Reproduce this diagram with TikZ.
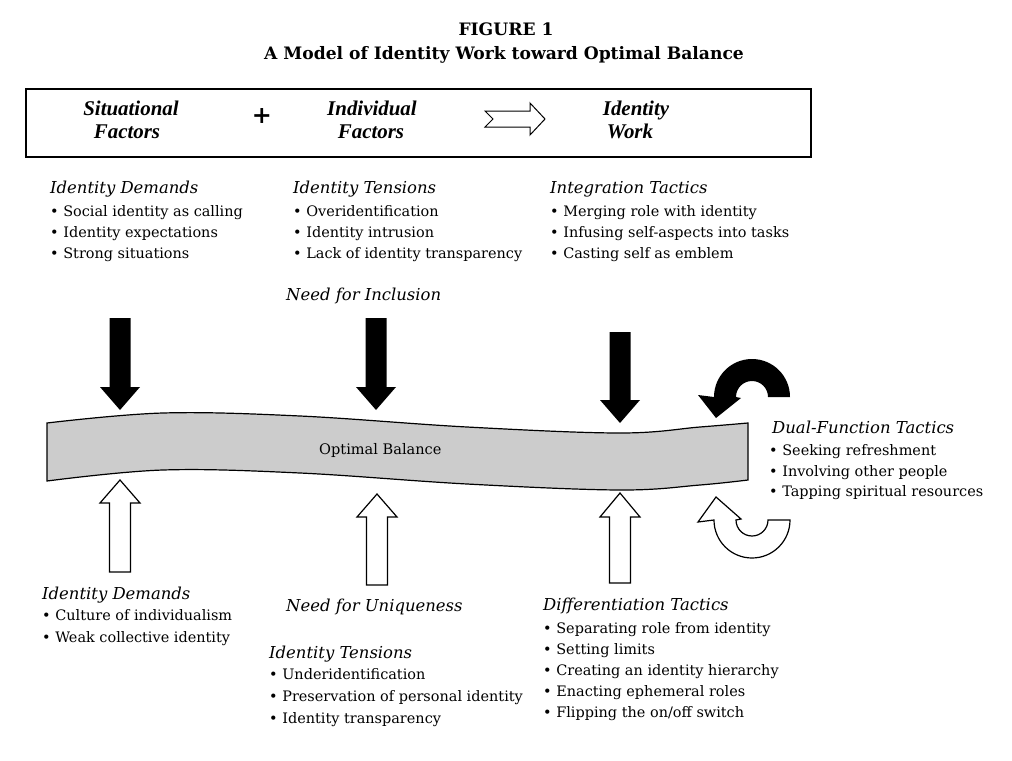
\documentclass[tikz,border=0pt]{standalone}
\usepackage{fontspec}
\setmainfont{DejaVu Serif}
\newfontfamily\hdrfont{Liberation Serif}
\newcommand\BlkDown[4]{\fill[black] (#1-10.5,#2) -- (#1+10.5,#2) -- (#1+10.5,#3) -- (#1+20,#3) -- (#1,#4) -- (#1-20,#3) -- (#1-10.5,#3) -- cycle;}
\newcommand\WhtUp[4]{\draw[uparr] (#1-10.5,#2) -- (#1+10.5,#2) -- (#1+10.5,#3) -- (#1+20,#3) -- (#1,#4) -- (#1-20,#3) -- (#1-10.5,#3) -- cycle;}
\begin{document}
\begin{tikzpicture}[x=1bp,y=-1bp,
  lbl/.style={anchor=base west, inner sep=0pt, font=\fontsize{14.5}{18}\selectfont},
  hd/.style={anchor=base west, inner sep=0pt, font=\fontsize{16.5}{18}\selectfont\itshape},
  hdr/.style={anchor=base, inner sep=0pt, font=\hdrfont\fontsize{21}{24}\selectfont\bfseries\itshape},
  ttl/.style={anchor=base, inner sep=0pt, font=\fontsize{17.2}{20}\selectfont\bfseries},
  uparr/.style={draw=black, fill=white, line width=1.2bp, line join=miter},
  band/.style={draw=black, fill=black!20, line width=1.2bp}]
\useasboundingbox[fill=white] (0,0) rectangle (1012,761);

% title
\node[ttl] (fig) at (506,36) {FIGURE 1};
\node[ttl] (title) at (504,60) {A Model of Identity Work toward Optimal Balance};

% header box
\draw[line width=1.3bp] (26,89) rectangle (811,157);
\node[hdr] (s1) at (131,115) {Situational};
\node[hdr] (s2) at (127,138) {Factors};
\node[anchor=center, inner sep=0pt, font=\fontsize{24}{24}\selectfont\bfseries] (plus) at (262,116) {+};
\node[hdr] (i1) at (372,115) {Individual};
\node[hdr] (i2) at (371,138) {Factors};
\draw[line width=1bp, fill=white, line join=miter] (485,111) -- (530,111) -- (530,103) -- (545,119) -- (530,135) -- (530,127) -- (485,127) -- (493,119) -- cycle;
\node[hdr] (w1) at (636,115) {Identity};
\node[hdr] (w2) at (630,138) {Work};

% top texts
\node[hd] (a0) at (50,193) {Identity Demands};
\node[lbl] (a1) at (50,216) {\textbullet\ Social identity as calling};
\node[lbl] (a2) at (50,237) {\textbullet\ Identity expectations};
\node[lbl] (a3) at (50,258) {\textbullet\ Strong situations};

\node[hd] (b0) at (293,193) {Identity Tensions};
\node[lbl] (b1) at (293,216) {\textbullet\ Overidentification};
\node[lbl] (b2) at (293,237) {\textbullet\ Identity intrusion};
\node[lbl] (b3) at (293,258) {\textbullet\ Lack of identity transparency};

\node[hd] (c0) at (550,193) {Integration Tactics};
\node[lbl] (c1) at (550,216) {\textbullet\ Merging role with identity};
\node[lbl] (c2) at (550,237) {\textbullet\ Infusing self-aspects into tasks};
\node[lbl] (c3) at (550,258) {\textbullet\ Casting self as emblem};

\node[hd] (incl) at (286,300) {Need for Inclusion};

% band
\draw[band] plot[smooth, tension=0.6] coordinates {(47,423) (163,413) (300,416) (467,427) (620,433) (700,427) (748,423)}
  -- plot[smooth, tension=0.6] coordinates {(748,480) (700,485) (620,490) (467,484) (300,473) (163,470) (47,481)} -- cycle;
\node[anchor=base west, inner sep=0pt, font=\fontsize{14.6}{17}\selectfont] (ob) at (319,454) {Optimal Balance};

% black down arrows
\BlkDown{120}{318}{387}{410}
\BlkDown{376}{318}{387}{410}
\BlkDown{620}{332}{400}{423}

% white up arrows
\WhtUp{120}{572}{503}{480}
\WhtUp{377}{585}{517}{494}
\WhtUp{620}{583}{517}{493}

% curved arrows
\fill[black] (790,397) arc[start angle=0, end angle=-180, radius=38] -- (698,395) -- (716,418) -- (741,398) -- (736,397) arc[start angle=180, end angle=360, radius=16] -- cycle;
\draw[uparr] (790,520) arc[start angle=0, end angle=180, radius=38] -- (698,522) -- (716,497) -- (741,519) -- (736,520) arc[start angle=180, end angle=0, radius=16] -- cycle;

% dual function
\node[hd] (d0) at (772,433) {Dual-Function Tactics};
\node[lbl] (d1) at (769,455) {\textbullet\ Seeking refreshment};
\node[lbl] (d2) at (769,476) {\textbullet\ Involving other people};
\node[lbl] (d3) at (769,496) {\textbullet\ Tapping spiritual resources};

% bottom texts
\node[hd] (e0) at (42,599) {Identity Demands};
\node[lbl] (e1) at (42,620) {\textbullet\ Culture of individualism};
\node[lbl] (e2) at (42,642) {\textbullet\ Weak collective identity};

\node[hd] (uniq) at (286,611) {Need for Uniqueness};

\node[hd] (f0) at (269,658) {Identity Tensions};
\node[lbl] (f1) at (269,679) {\textbullet\ Underidentification};
\node[lbl] (f2) at (269,701) {\textbullet\ Preservation of personal identity};
\node[lbl] (f3) at (269,723) {\textbullet\ Identity transparency};

\node[hd] (g0) at (543,610) {Differentiation Tactics};
\node[lbl] (g1) at (543,633) {\textbullet\ Separating role from identity};
\node[lbl] (g2) at (543,654) {\textbullet\ Setting limits};
\node[lbl] (g3) at (543,675) {\textbullet\ Creating an identity hierarchy};
\node[lbl] (g4) at (543,696) {\textbullet\ Enacting ephemeral roles};
\node[lbl] (g5) at (543,717) {\textbullet\ Flipping the on/off switch};
\end{tikzpicture}
\end{document}
